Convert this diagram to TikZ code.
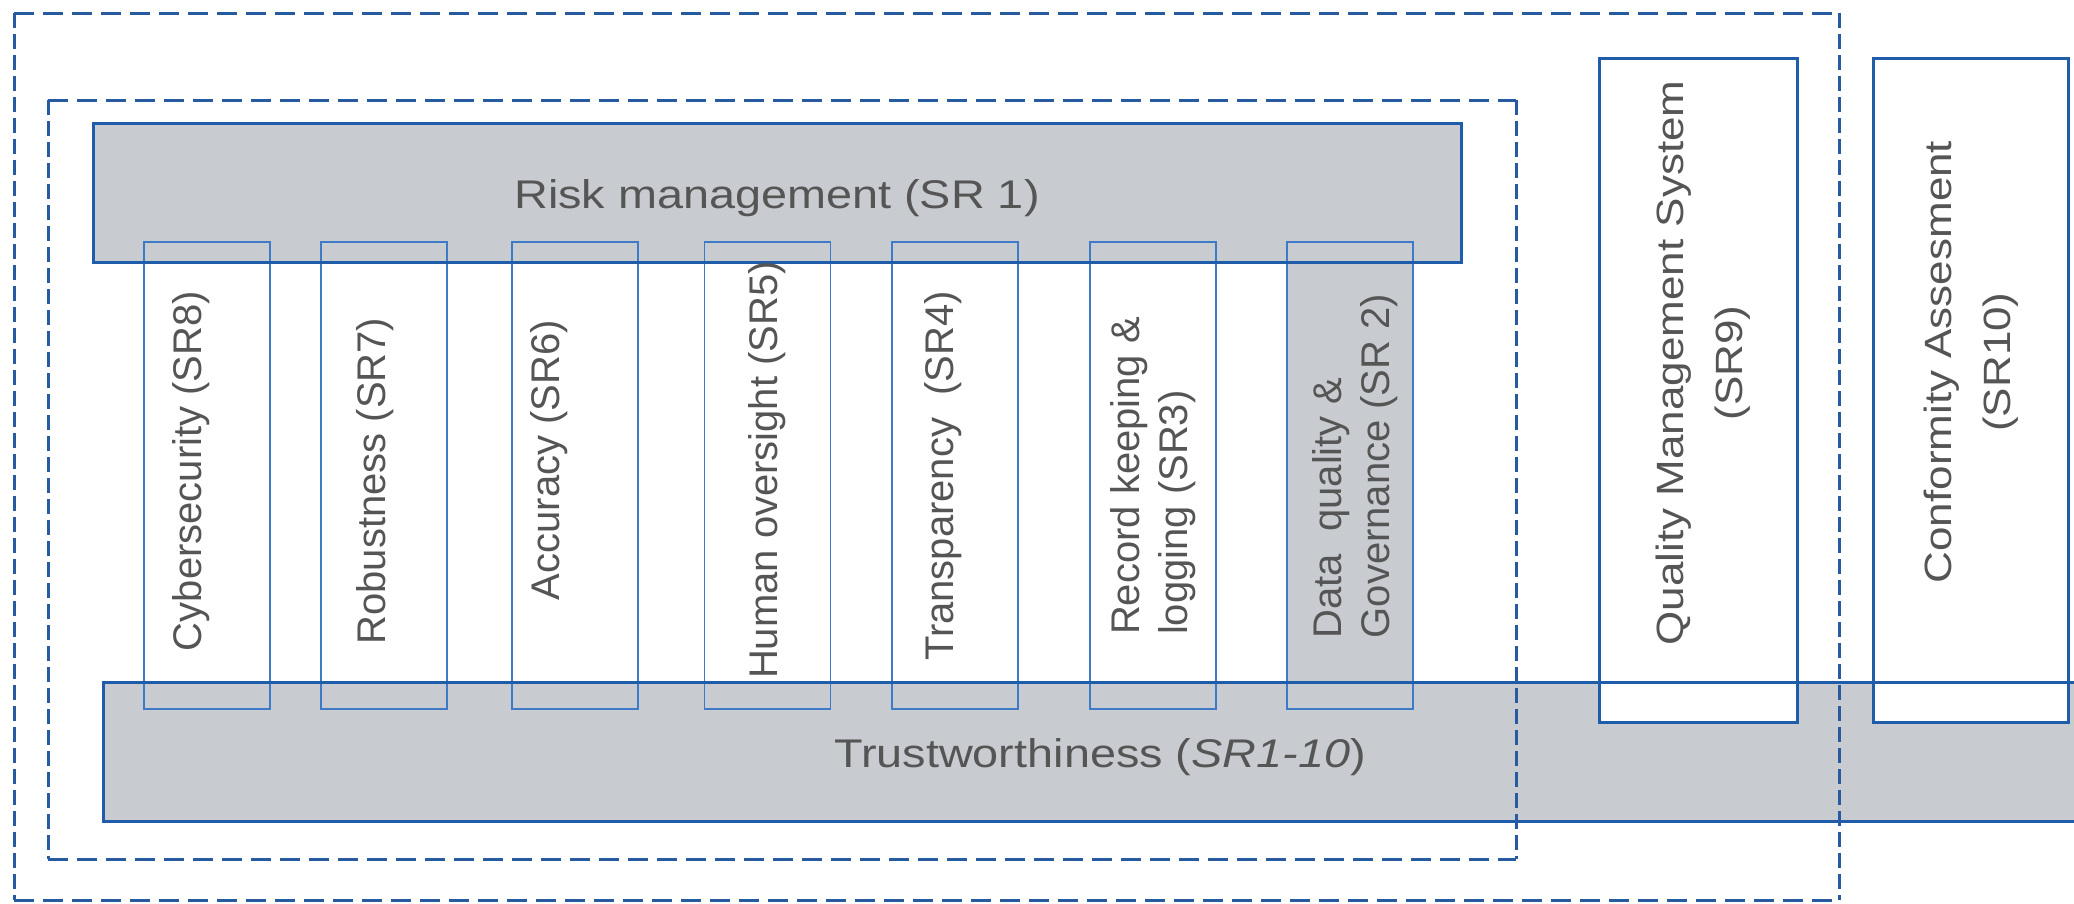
\documentclass[tikz,border=0pt]{standalone}
\usepackage{fontspec}
\setmainfont{Liberation Sans}
\usepackage{graphicx}
\definecolor{fillgray}{RGB}{200,203,207}
\definecolor{boxblue}{RGB}{31,92,170}
\definecolor{pillarblue}{RGB}{62,122,200}
\definecolor{dashblue}{RGB}{40,90,160}
\definecolor{textgray}{RGB}{85,85,85}
\begin{document}
\begin{tikzpicture}[x=1pt,y=-1pt,
  bigbox/.style={draw=boxblue, line width=3pt, fill=fillgray, inner sep=0pt, outer sep=0pt},
  sidebox/.style={draw=boxblue, line width=3pt, fill=white, inner sep=0pt, outer sep=0pt,
      minimum height=664pt},
  pillar/.style={draw=pillarblue, line width=1.8pt, inner sep=0pt, outer sep=0pt,
      minimum width=126pt, minimum height=467pt},
  boxline/.style={draw=boxblue, line width=3pt},
  hdash/.style={draw=dashblue, line width=3pt, dash pattern=on 20pt off 9pt},
  vdash/.style={draw=dashblue, line width=3pt, dash pattern=on 15pt off 6pt},
  lbl/.style={inner sep=0pt, outer sep=0pt, text=textgray, font=\fontsize{40}{48}\selectfont},
  sidelbl/.style={inner sep=0pt, outer sep=0pt, text=textgray, font=\fontsize{40}{62}\selectfont}]
\useasboundingbox (0,0) rectangle (2074,903);
\clip (0,0) rectangle (2074,903);
% main boxes
\node[bigbox, minimum width=1368pt, minimum height=139pt] (risk) at (777,192.5) {};
\node[bigbox, minimum width=1987pt, minimum height=139pt] (trust) at (1096.5,751.5) {};
% pillars
\node[pillar] (p8) at (207,475.5) {};
\node[pillar] (p7) at (384,475.5) {};
\node[pillar] (p6) at (575,475.5) {};
\node[pillar] (p5) at (767.5,475.5) {};
\node[pillar] (p4) at (955,475.5) {};
\node[pillar] (p3) at (1153,475.5) {};
\node[pillar, fill=fillgray] (p2) at (1350,475.5) {};
\draw[boxline] (risk.south west) -- (risk.south east);
% side boxes
\node[sidebox, minimum width=198pt] (qms) at (1698,390) {};
\node[sidebox, minimum width=195pt] (conf) at (1970.5,390) {};
\draw[boxline] (trust.north west) -- (trust.north east);
% labels
\node[lbl, anchor=base] (risktxt) at (777,208) {\scalebox{1.17}[1]{Risk management (SR 1)}};
\node[lbl, anchor=base] (trusttxt) at (1100,767) {\scalebox{1.17}[1]{Trustworthiness (\textit{SR1-10})}};
\node[lbl] (t8) at (191,471) {\rotatebox{90}{Cybersecurity (SR8)}};
\node[lbl] (t7) at (375,481) {\rotatebox{90}{Robustness (SR7)}};
\node[lbl] (t6) at (549,460) {\rotatebox{90}{Accuracy (SR6)}};
\node[lbl] (t5) at (767,470) {\rotatebox{90}{Human oversight (SR5)}};
\node[lbl] (t4) at (943,476) {\rotatebox{90}{Transparency~~(SR4)}};
\node[lbl] (t3) at (1154,476) {\rotatebox{90}{\begin{tabular}{@{}l@{}}Record keeping \&\\logging (SR3)\end{tabular}}};
\node[lbl] (t2) at (1356,466) {\rotatebox{90}{\begin{tabular}{@{}l@{}}Data~~quality \&\\Governance (SR 2)\end{tabular}}};
\node[sidelbl] (t9) at (1701,363) {\rotatebox{90}{\scalebox{1.1}[0.95]{\begin{tabular}{@{}c@{}}Quality Management System\\(SR9)\end{tabular}}}};
\node[sidelbl] (t10) at (1969,362) {\rotatebox{90}{\scalebox{1.1}[0.95]{\begin{tabular}{@{}c@{}}Conformity Assesment\\(SR10)\end{tabular}}}};
% dashed frames
\coordinate (oTL) at (14,13);
\coordinate (oTR) at (1839,13);
\coordinate (oBR) at (1839,900);
\coordinate (oBL) at (14,900);
\coordinate (iTL) at (48,100);
\coordinate (iTR) at (1516,100);
\coordinate (iBR) at (1516,859);
\coordinate (iBL) at (48,859);
\draw[hdash] (oTL) -- (oTR);
\draw[vdash] (oTR) -- (oBR);
\draw[hdash] (oBL) -- (oBR);
\draw[vdash] (oTL) -- (oBL);
\draw[hdash] (iTL) -- (iTR);
\draw[vdash] (iTR) -- (iBR);
\draw[hdash] (iBL) -- (iBR);
\draw[vdash] (iTL) -- (iBL);
\end{tikzpicture}
\end{document}
